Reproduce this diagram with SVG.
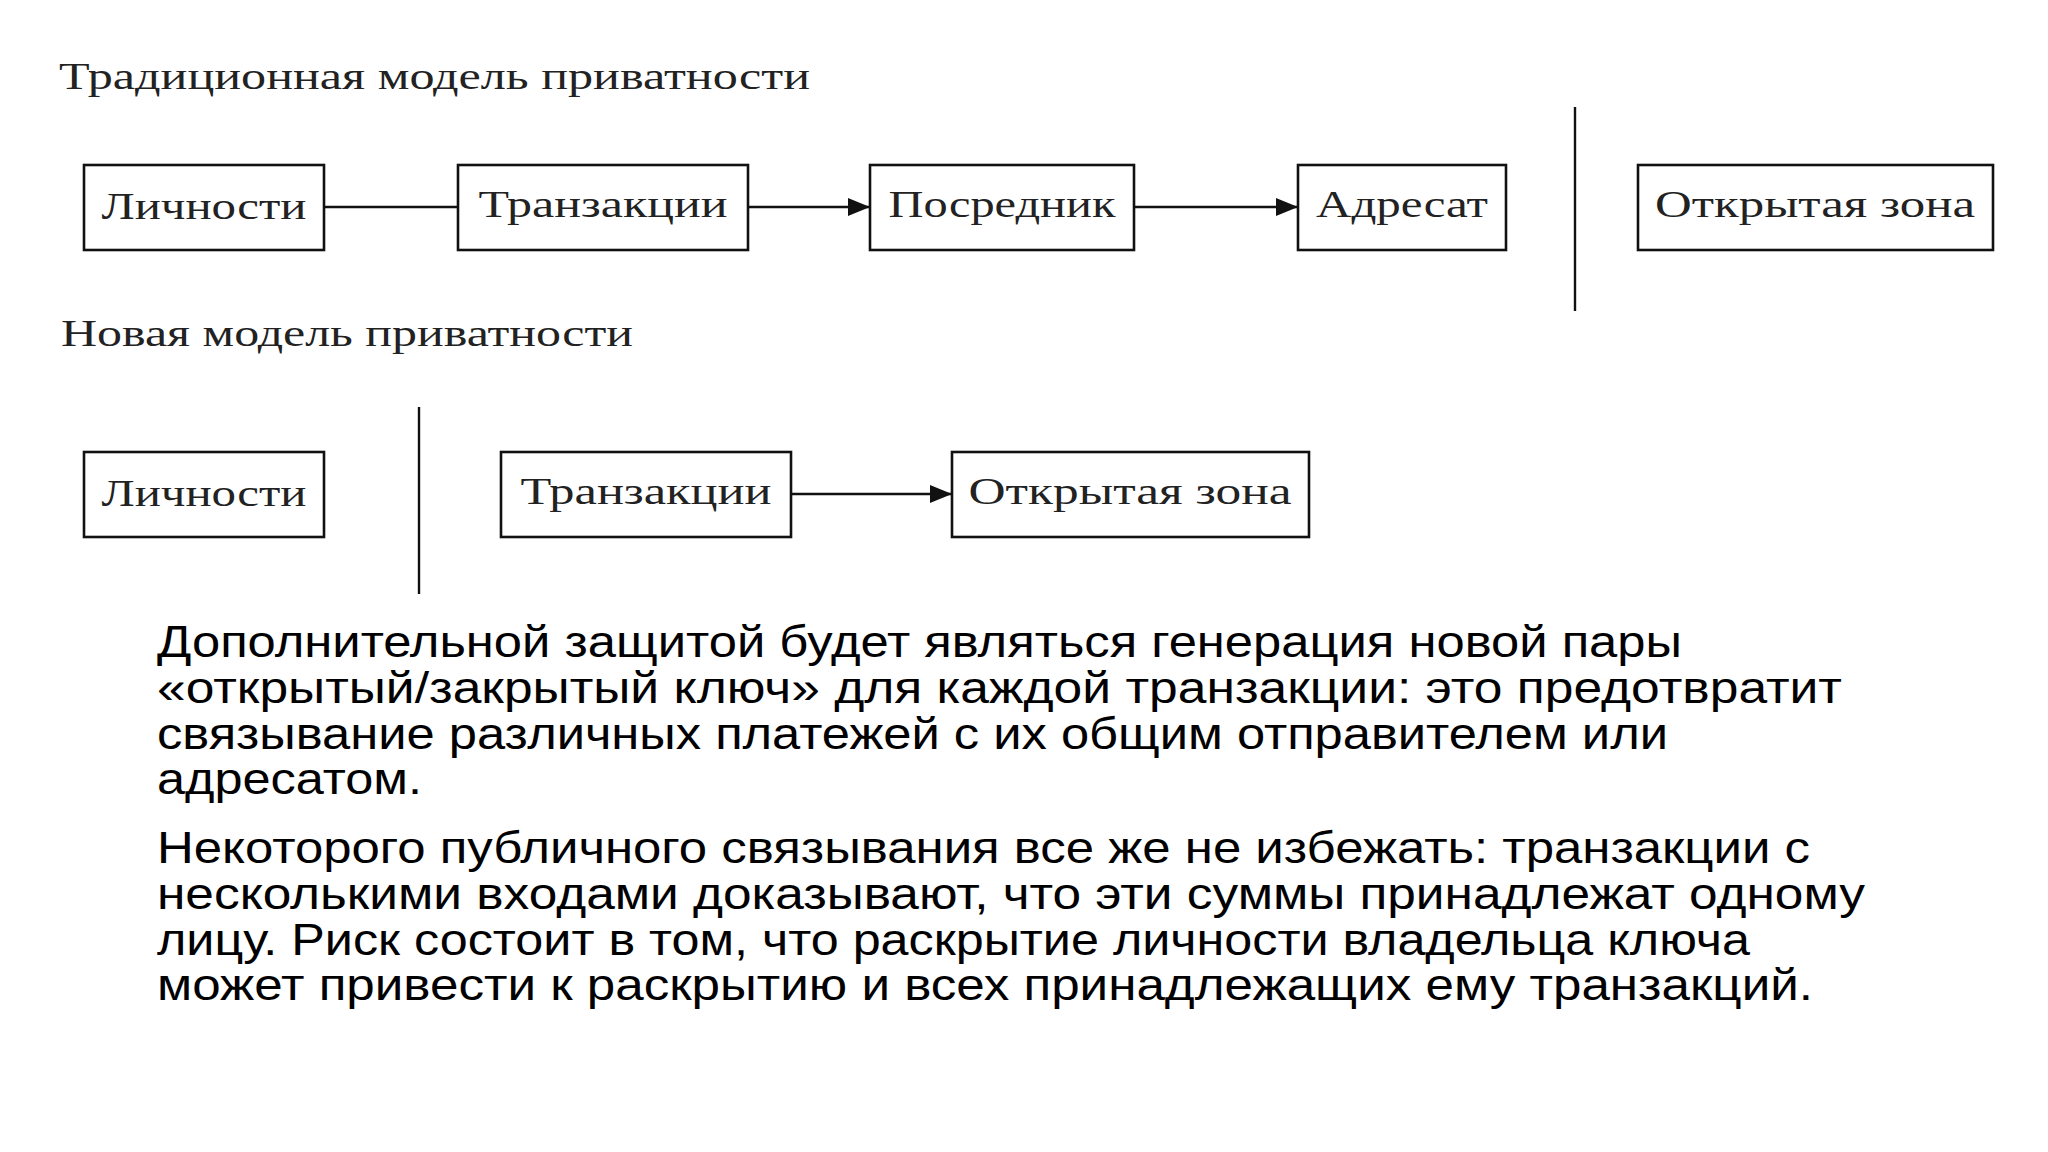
<svg xmlns="http://www.w3.org/2000/svg" width="2048" height="1152" viewBox="0 0 2048 1152">
<style>
.t{font-family:"Liberation Serif","DejaVu Serif",serif;font-size:37px;fill:#222}
.b{fill:none;stroke:#111;stroke-width:2.6}
.bt{font-family:"Liberation Serif","DejaVu Serif",serif;font-size:38px;fill:#222;text-anchor:middle}
.c{stroke:#111;stroke-width:2.4;fill:none}
.p{font-family:"Liberation Sans","Open Sans",sans-serif;font-size:44px;fill:#000}
</style>
<defs>
<marker id="ab" markerWidth="22" markerHeight="18" refX="22" refY="9" orient="auto" markerUnits="userSpaceOnUse"><path d="M0,0 L22,9 L0,18 Z" fill="#111"/></marker></defs>
<rect width="2048" height="1152" fill="#fff"/>
<text class="t" x="59" y="89" textLength="751" lengthAdjust="spacingAndGlyphs">Традиционная модель приватности</text>
<text class="t" x="61" y="346" textLength="572" lengthAdjust="spacingAndGlyphs">Новая модель приватности</text>
<g id="connectors">
<line class="c" x1="324" y1="207" x2="458" y2="207"/>
<line class="c" x1="748" y1="207" x2="870" y2="207" marker-end="url(#ab)"/>
<line class="c" x1="1134" y1="207" x2="1298" y2="207" marker-end="url(#ab)"/>
<line class="c" x1="791" y1="494" x2="952" y2="494" marker-end="url(#ab)"/>
<line class="c" x1="1575" y1="107" x2="1575" y2="311"/>
<line class="c" x1="419" y1="407" x2="419" y2="594"/>
</g>
<g id="n1"><rect class="b" x="84" y="165" width="240" height="85"/><text class="bt" x="204" y="219" textLength="205" lengthAdjust="spacingAndGlyphs">Личности</text></g>
<g id="n2"><rect class="b" x="458" y="165" width="290" height="85"/><text class="bt" x="603" y="217" textLength="249" lengthAdjust="spacingAndGlyphs">Транзакции</text></g>
<g id="n3"><rect class="b" x="870" y="165" width="264" height="85"/><text class="bt" x="1002" y="217" textLength="227" lengthAdjust="spacingAndGlyphs">Посредник</text></g>
<g id="n4"><rect class="b" x="1298" y="165" width="208" height="85"/><text class="bt" x="1402" y="217" textLength="172" lengthAdjust="spacingAndGlyphs">Адресат</text></g>
<g id="n5"><rect class="b" x="1638" y="165" width="355" height="85"/><text class="bt" x="1815" y="217" textLength="320" lengthAdjust="spacingAndGlyphs">Открытая зона</text></g>
<g id="m1"><rect class="b" x="84" y="452" width="240" height="85"/><text class="bt" x="204" y="506" textLength="205" lengthAdjust="spacingAndGlyphs">Личности</text></g>
<g id="m2"><rect class="b" x="501" y="452" width="290" height="85"/><text class="bt" x="646" y="504" textLength="251" lengthAdjust="spacingAndGlyphs">Транзакции</text></g>
<g id="m3"><rect class="b" x="952" y="452" width="357" height="85"/><text class="bt" x="1130" y="504" textLength="323" lengthAdjust="spacingAndGlyphs">Открытая зона</text></g>
<g id="body">
<text class="p" x="157" y="657" textLength="1525" lengthAdjust="spacingAndGlyphs">Дополнительной защитой будет являться генерация новой пары</text>
<text class="p" x="157" y="703" textLength="1685" lengthAdjust="spacingAndGlyphs">«открытый/закрытый ключ» для каждой транзакции: это предотвратит</text>
<text class="p" x="157" y="749" textLength="1511" lengthAdjust="spacingAndGlyphs">связывание различных платежей с их общим отправителем или</text>
<text class="p" x="157" y="794" textLength="265" lengthAdjust="spacingAndGlyphs">адресатом.</text>
<text class="p" x="157" y="863" textLength="1653" lengthAdjust="spacingAndGlyphs">Некоторого публичного связывания все же не избежать: транзакции с</text>
<text class="p" x="157" y="909" textLength="1708" lengthAdjust="spacingAndGlyphs">несколькими входами доказывают, что эти суммы принадлежат одному</text>
<text class="p" x="157" y="955" textLength="1593" lengthAdjust="spacingAndGlyphs">лицу. Риск состоит в том, что раскрытие личности владельца ключа</text>
<text class="p" x="157" y="1000" textLength="1656" lengthAdjust="spacingAndGlyphs">может привести к раскрытию и всех принадлежащих ему транзакций.</text>
</g>
</svg>
